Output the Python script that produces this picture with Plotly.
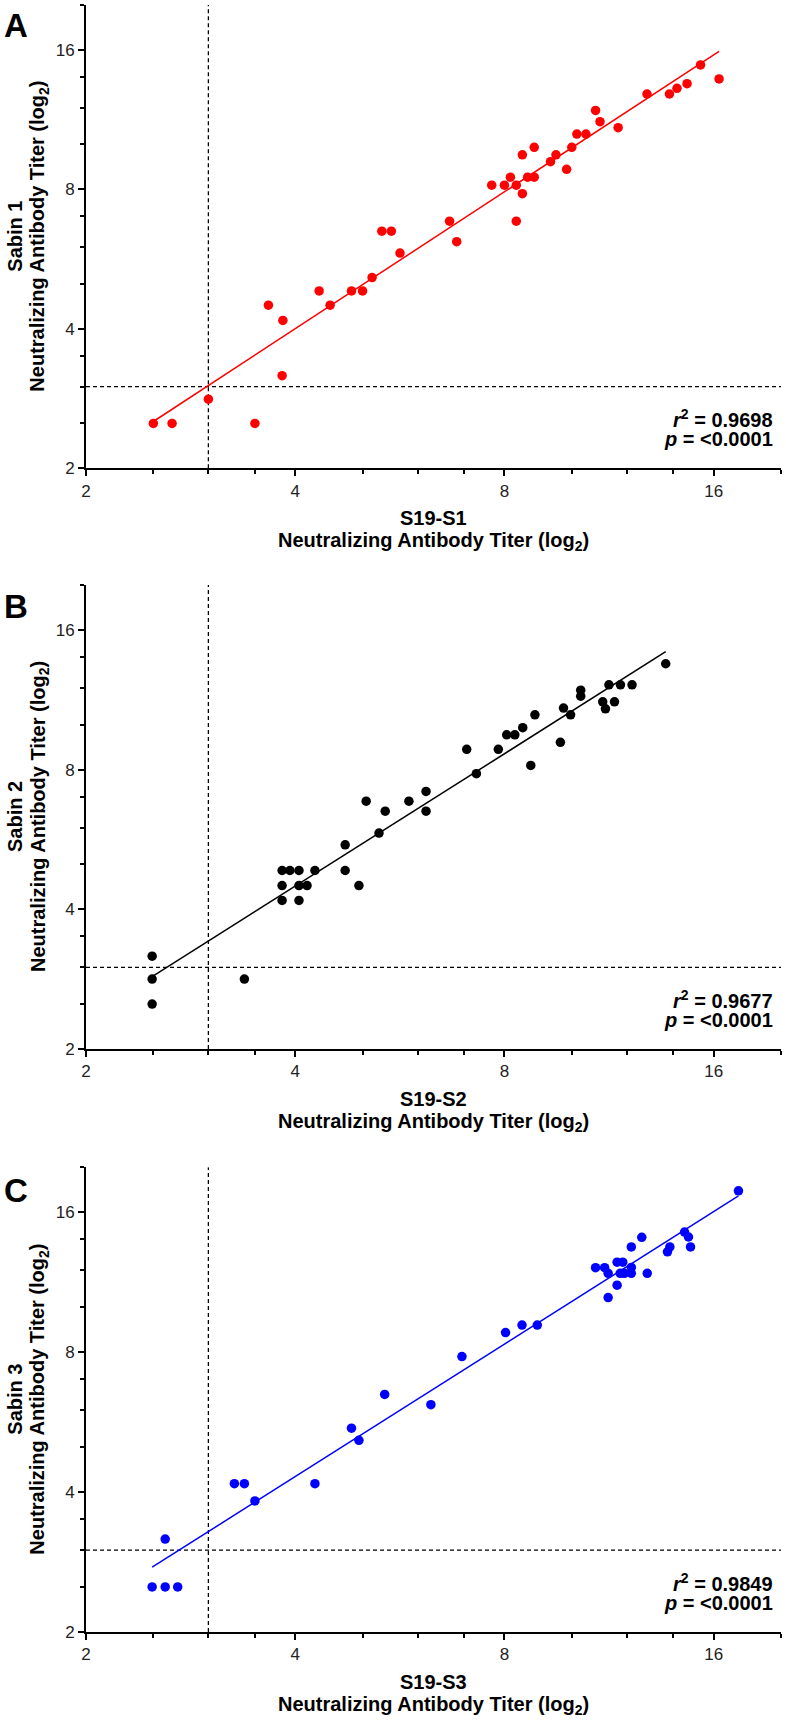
import numpy as np
import plotly.graph_objects as go

# ---------------- data ----------------
A_x = [2.5, 2.66, 3.0, 3.5, 3.83, 3.66, 3.84, 4.33, 4.49, 4.82, 5.0, 5.16, 5.66, 5.33, 5.5,
       6.67, 6.83, 7.67, 8.0, 8.16, 8.32, 8.49, 8.32, 8.64, 8.83, 8.49, 8.83, 9.32, 9.49,
       9.83, 10.0, 10.17, 10.48, 10.82, 10.98, 11.66, 12.83, 13.82, 14.17, 14.65, 15.32, 16.29]
A_y = [2.5, 2.5, 2.82, 2.5, 3.17, 4.5, 4.17, 4.83, 4.5, 4.83, 4.83, 5.16, 5.83, 6.5, 6.5,
       6.83, 6.17, 8.17, 8.17, 8.5, 8.17, 7.83, 6.83, 8.5, 8.5, 9.5, 9.86, 9.18, 9.5,
       8.84, 9.86, 10.53, 10.53, 11.84, 11.2, 10.87, 12.85, 12.85, 13.22, 13.53, 14.85, 13.85]

B_x = [2.49, 2.49, 2.49, 3.38, 3.83, 3.93, 4.05, 4.27, 3.83, 4.05, 4.16, 3.83, 4.05, 4.72,
       4.72, 4.94, 5.28, 5.06, 5.39, 5.83, 6.17, 6.17, 7.06, 7.29, 7.84, 8.06, 8.28, 8.5,
       8.73, 8.85, 9.63, 9.73, 9.96, 10.3, 10.3, 11.08, 11.18, 11.52, 11.31, 11.75, 12.21, 13.65]
B_y = [3.17, 2.83, 2.5, 2.83, 4.85, 4.85, 4.85, 4.85, 4.5, 4.5, 4.5, 4.18, 4.18, 4.85,
       5.51, 4.5, 5.84, 6.84, 6.51, 6.84, 6.51, 7.18, 8.85, 7.84, 8.85, 9.51, 9.51, 9.85,
       8.17, 10.5, 9.16, 10.86, 10.5, 11.87, 11.52, 11.2, 10.82, 11.2, 12.19, 12.19, 12.19, 13.53]

C_x = [2.49, 2.6, 2.71, 2.6, 3.27, 3.38, 3.5, 4.27, 4.82, 4.94, 5.38, 6.27, 6.95, 8.03,
       8.48, 8.92, 10.82, 11.15, 11.28, 11.28, 11.62, 11.84, 11.62, 11.74, 11.9, 12.18,
       12.18, 12.18, 12.61, 12.84, 13.73, 13.84, 14.53, 14.72, 14.82, 17.37]
C_y = [2.5, 2.5, 2.5, 3.17, 4.17, 4.17, 3.83, 4.17, 5.49, 5.17, 6.49, 6.17, 7.83, 8.82,
       9.15, 9.15, 12.16, 12.16, 11.83, 10.49, 12.5, 12.5, 11.15, 11.83, 11.83, 12.18,
       11.83, 13.48, 14.14, 11.83, 13.16, 13.48, 14.51, 14.16, 13.48, 17.8]

panel_letters = ["A", "B", "C"]
x_names = ["S19-S1", "S19-S2", "S19-S3"]
y_names = ["Sabin 1", "Sabin 2", "Sabin 3"]
titer_label = "Neutralizing Antibody Titer (log<sub>2</sub>)"
r2_values = ["0.9698", "0.9677", "0.9849"]
p_values = ["&lt;0.0001", "&lt;0.0001", "&lt;0.0001"]
colors = ["#FF0000", "#000000", "#0000FF"]
lod = 3
axis_min, axis_max = 2, 20
major_ticks = [2, 4, 8, 16]
minor_ticks = [2.5, 3, 3.5, 5, 6, 7, 10, 12, 14, 20]

datasets = [(A_x, A_y), (B_x, B_y), (C_x, C_y)]

# ---------------- layout ----------------
W, H = 786, 1721
ML, MR, MT, MB = 86, 5, 5, 89
plot_h = H - MT - MB
bottom_px = H - MB


def py2paper(py):
    return min(1.0, max(0.0, (bottom_px - py) / plot_h))


# panel (top px, bottom px)
panel_px = [(5.0, 468.3), (585.0, 1049.0), (1167.3, 1632.0)]
letter_shift = [-20, -21, -23]

FONT = "Liberation Sans, Arial, Helvetica, sans-serif"
TITLE_SIZE = 20
STAT_SIZE = 20

fig = go.Figure()
layout = dict(
    width=W, height=H,
    margin=dict(l=ML, r=MR, t=MT, b=MB),
    paper_bgcolor="white", plot_bgcolor="white",
    showlegend=False,
    font=dict(family=FONT, color="black"),
    annotations=[],
)


def note(text, **kw):
    base = dict(text=text, showarrow=False, borderpad=0,
                font=dict(family=FONT, size=kw.pop("size", TITLE_SIZE), color="black"))
    base.update(kw)
    layout["annotations"].append(base)


for i, ((xs, ys), col) in enumerate(zip(datasets, colors)):
    n = "" if i == 0 else str(i + 1)
    xa, ya = "x" + n, "y" + n
    xd, yd = xa + " domain", ya + " domain"

    # dashed limit-of-detection lines
    fig.add_trace(go.Scatter(x=[lod, lod], y=[axis_min, axis_max], mode="lines",
                             line=dict(color="black", width=1.3, dash="4px,3px"),
                             xaxis=xa, yaxis=ya, hoverinfo="skip"))
    fig.add_trace(go.Scatter(x=[axis_min, axis_max], y=[lod, lod], mode="lines",
                             line=dict(color="black", width=1.3, dash="4px,3px"),
                             xaxis=xa, yaxis=ya, hoverinfo="skip"))

    # regression line in log2-log2 space
    lx, ly = np.log2(xs), np.log2(ys)
    slope, icpt = np.polyfit(lx, ly, 1)
    fx = np.array([min(xs), max(xs)])
    fy = 2 ** (icpt + slope * np.log2(fx))
    fig.add_trace(go.Scatter(x=fx, y=fy, mode="lines", line=dict(color=col, width=1.5),
                             xaxis=xa, yaxis=ya, hoverinfo="skip"))

    fig.add_trace(go.Scatter(x=xs, y=ys, mode="markers",
                             marker=dict(color=col, size=9.5, line=dict(width=0)),
                             xaxis=xa, yaxis=ya, cliponaxis=False))

    top, bot = panel_px[i]
    common = dict(
        type="log",
        range=[np.log10(axis_min), np.log10(axis_max)],
        showgrid=False, zeroline=False,
        showline=True, linecolor="black", linewidth=2,
        ticks="outside", ticklen=6, tickwidth=2, tickcolor="black",
        tickmode="array", tickvals=major_ticks, ticktext=[str(t) for t in major_ticks],
        tickfont=dict(family=FONT, size=17, color="#222"),
        minor=dict(tickmode="array", tickvals=minor_ticks, ticks="outside",
                   ticklen=4, tickwidth=1.5, tickcolor="black", showgrid=False),
        fixedrange=True,
    )
    layout["xaxis" + n] = dict(common, domain=[0, 1], anchor=ya)
    layout["yaxis" + n] = dict(common, domain=[py2paper(bot), py2paper(top)], anchor=xa)

    # panel letter
    note("<b>%s</b>" % panel_letters[i], xref="paper", yref=yd,
         x=(16 - ML) / (W - ML - MR), y=1, yshift=letter_shift[i],
         xanchor="center", yanchor="middle", size=33)
    # x title (two lines)
    note("<b>%s</b>" % x_names[i], xref=xd, yref=yd, x=0.5, y=0, yshift=-50,
         xanchor="center", yanchor="middle")
    note("<b>%s</b>" % titer_label, xref=xd, yref=yd, x=0.5, y=0, yshift=-73,
         xanchor="center", yanchor="middle")
    # y title (two lines, rotated)
    note("<b>%s</b>" % y_names[i], xref=xd, yref=yd, x=0, y=0.5, xshift=-71,
         xanchor="center", yanchor="middle", textangle=-90)
    note("<b>%s</b>" % titer_label, xref=xd, yref=yd, x=0, y=0.5, xshift=-47,
         xanchor="center", yanchor="middle", textangle=-90)
    # statistics
    note("<b><i>r</i><sup>2</sup> = %s</b>" % r2_values[i], xref=xd, yref=yd,
         x=1, y=0, xshift=-7, yshift=50, xanchor="right", yanchor="middle", size=STAT_SIZE)
    note("<b><i>p</i> = %s</b>" % p_values[i], xref=xd, yref=yd,
         x=1, y=0, xshift=-7, yshift=29, xanchor="right", yanchor="middle", size=STAT_SIZE)

fig.update_layout(**layout)
fig.write_html("out.html")
